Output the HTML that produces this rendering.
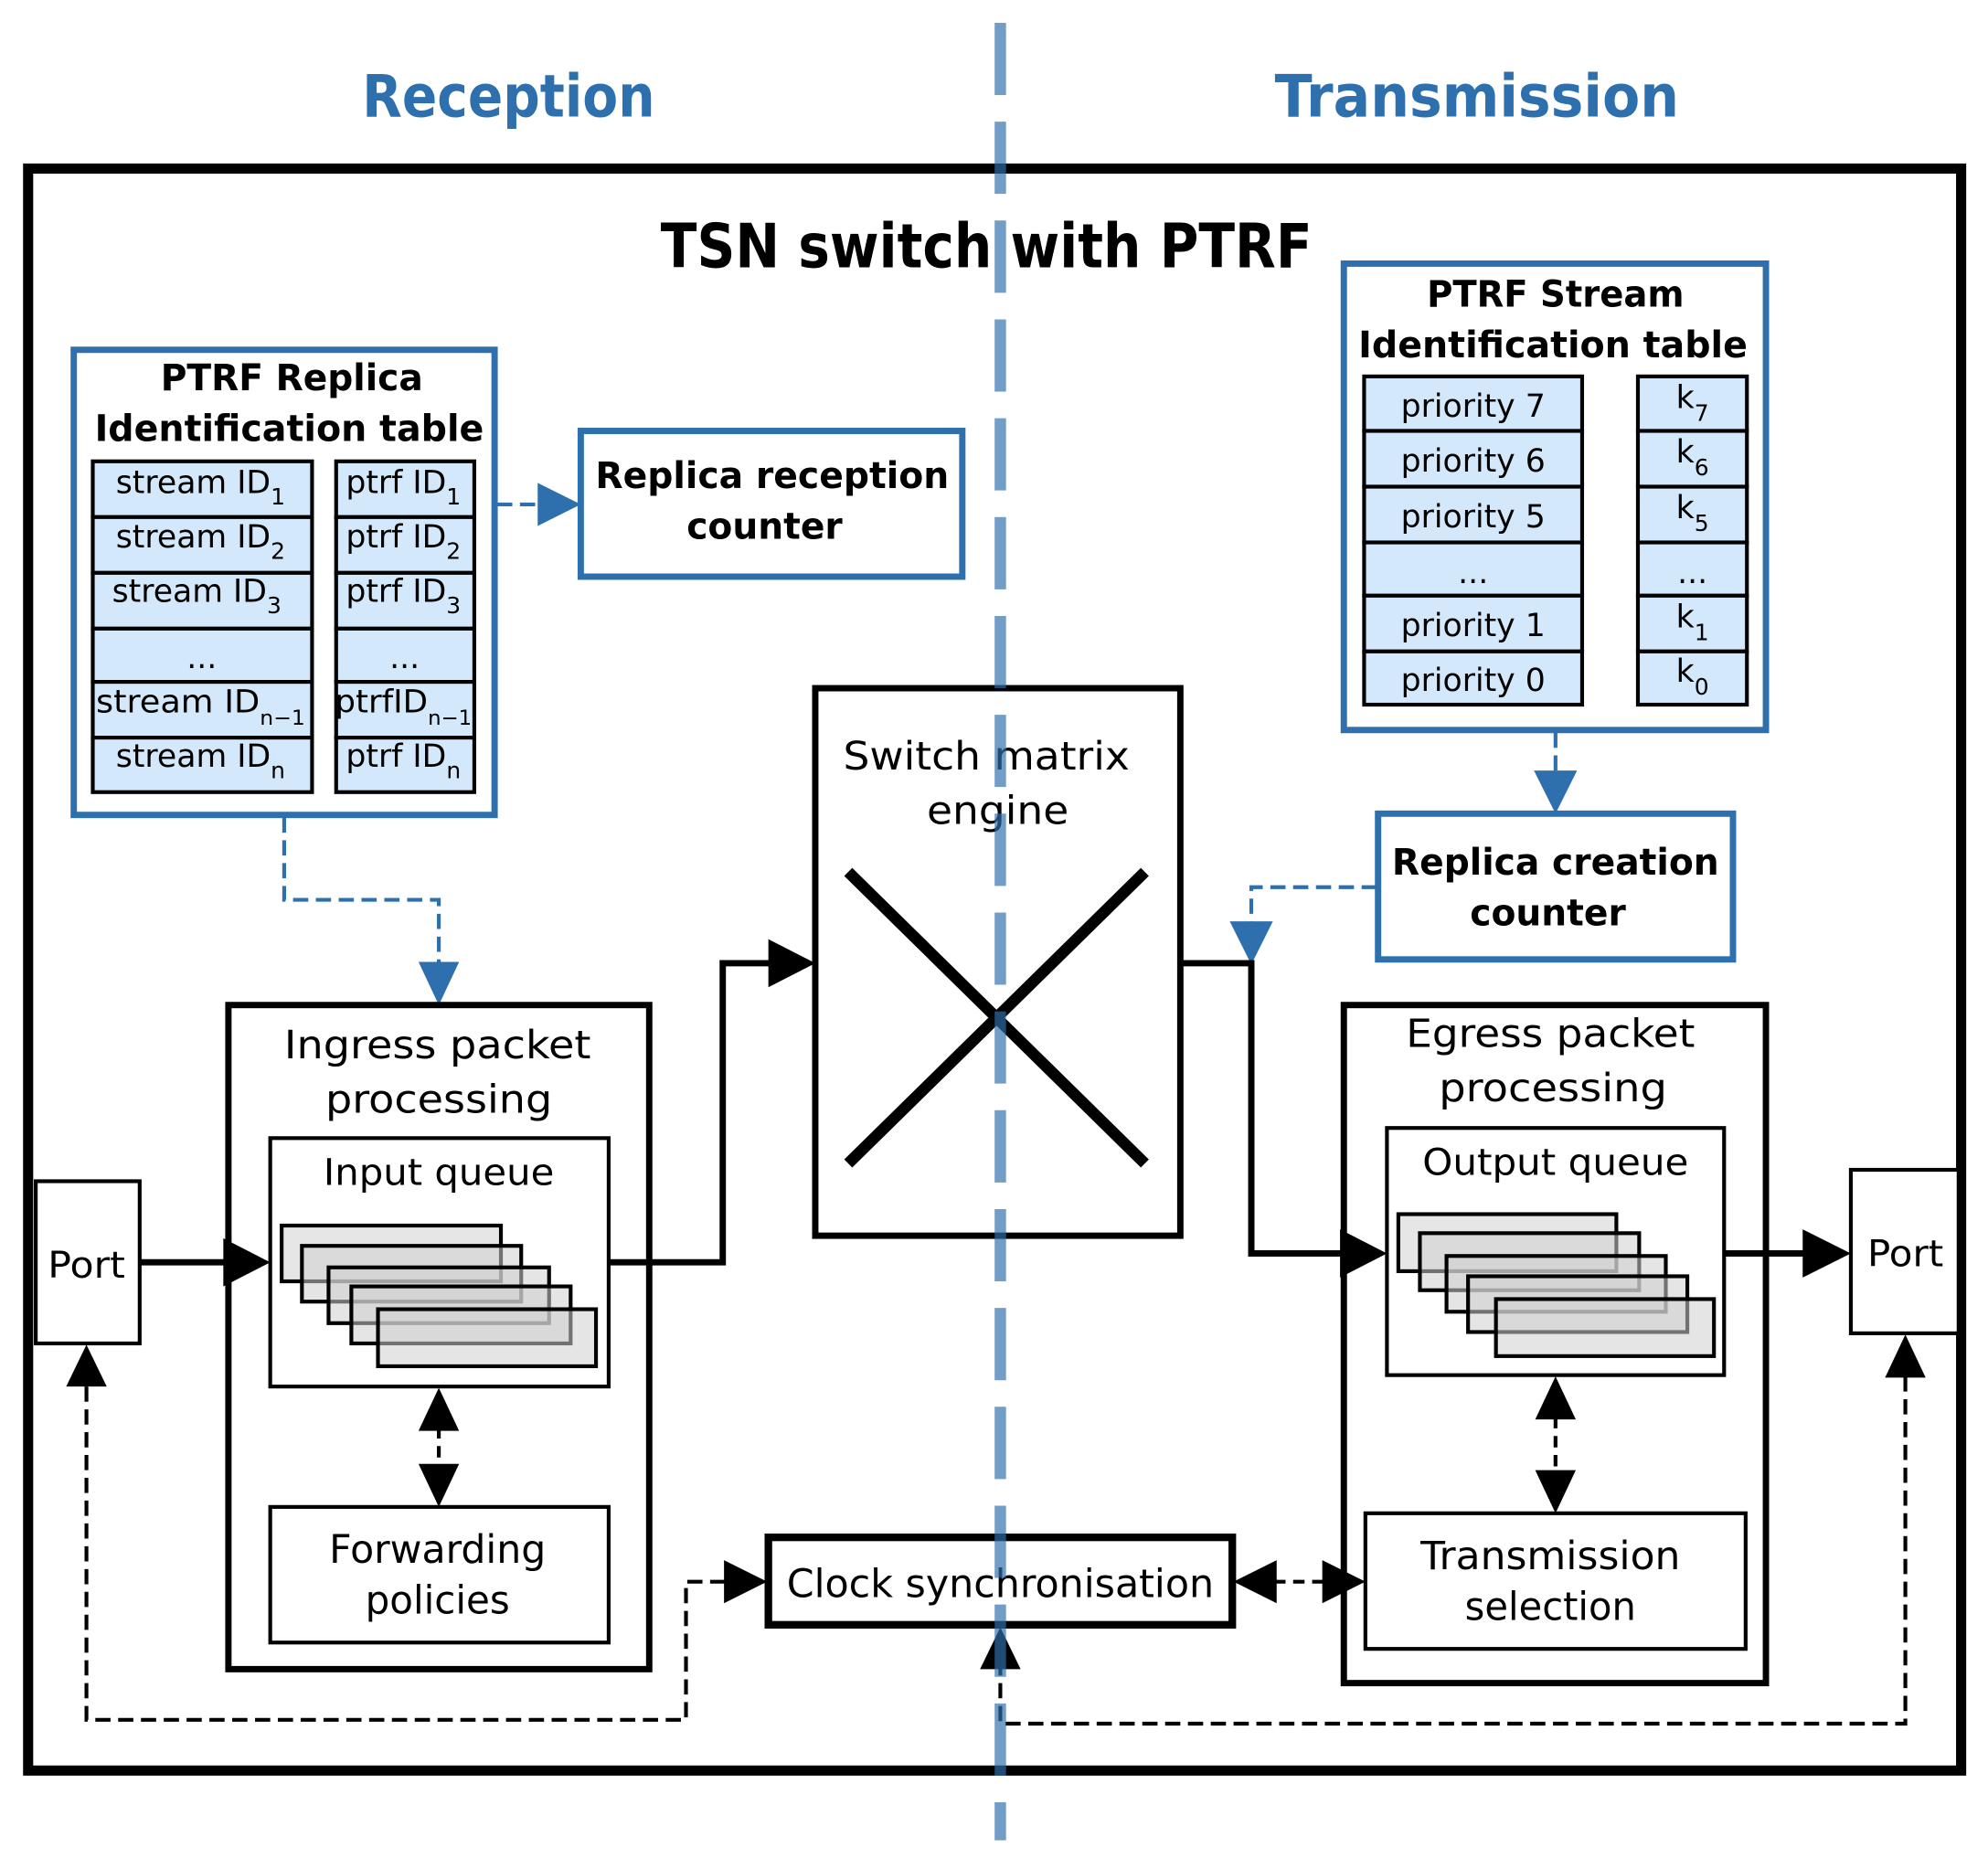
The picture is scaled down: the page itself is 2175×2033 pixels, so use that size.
<!DOCTYPE html>
<html><head><meta charset="utf-8"><style>html,body{margin:0;padding:0;background:#fff}svg{display:block}</style></head>
<body>
<svg width="2175" height="2033" viewBox="0 0 1568 1466" xmlns="http://www.w3.org/2000/svg" font-family="DejaVu Sans, Liberation Sans, sans-serif">
<rect width="1568" height="1466" fill="#fff"/>
<text x="401" y="92" font-size="46" font-weight="bold" fill="#2e6fad" text-anchor="middle" textLength="231" lengthAdjust="spacingAndGlyphs">Reception</text>
<text x="1165" y="92" font-size="46" font-weight="bold" fill="#2e6fad" text-anchor="middle" textLength="319" lengthAdjust="spacingAndGlyphs">Transmission</text>
<rect x="22" y="133" width="1525" height="1264" fill="none" stroke="#000" stroke-width="8"/>
<text x="778" y="211" font-size="48" font-weight="bold" text-anchor="middle" textLength="514" lengthAdjust="spacingAndGlyphs">TSN switch with PTRF</text>

<rect x="58" y="276" width="332" height="367" fill="#fff" stroke="#2e6fad" stroke-width="5"/>
<text x="230" y="308" font-size="29" font-weight="bold" text-anchor="middle" textLength="207" lengthAdjust="spacingAndGlyphs">PTRF Replica</text>
<text x="228" y="348" font-size="29" font-weight="bold" text-anchor="middle" textLength="307" lengthAdjust="spacingAndGlyphs">Identification table</text>
<g stroke="#000" stroke-width="3" fill="#d4e8fb">
<rect x="73" y="364" width="173" height="44"/><rect x="73" y="408" width="173" height="44"/><rect x="73" y="452" width="173" height="44"/><rect x="73" y="496" width="173" height="42"/><rect x="73" y="538" width="173" height="44"/><rect x="73" y="582" width="173" height="43"/>
<rect x="265" y="364" width="109" height="44"/><rect x="265" y="408" width="109" height="44"/><rect x="265" y="452" width="109" height="44"/><rect x="265" y="496" width="109" height="42"/><rect x="265" y="538" width="109" height="44"/><rect x="265" y="582" width="109" height="43"/>
</g>
<g font-size="25" text-anchor="middle">
<text x="158" y="389">stream ID<tspan font-size="18" dy="9">1</tspan></text>
<text x="158" y="432">stream ID<tspan font-size="18" dy="9">2</tspan></text>
<text x="155" y="475">stream ID<tspan font-size="18" dy="9">3</tspan></text>
<text x="159" y="527">...</text>
<text x="158" y="562" textLength="165" lengthAdjust="spacingAndGlyphs">stream ID<tspan font-size="16" dy="10">n−1</tspan></text>
<text x="158" y="605">stream ID<tspan font-size="18" dy="9">n</tspan></text>
<text x="318" y="389">ptrf ID<tspan font-size="18" dy="9">1</tspan></text>
<text x="318" y="432">ptrf ID<tspan font-size="18" dy="9">2</tspan></text>
<text x="318" y="475">ptrf ID<tspan font-size="18" dy="9">3</tspan></text>
<text x="319" y="527">...</text>
<text x="318" y="562" textLength="108" lengthAdjust="spacingAndGlyphs">ptrfID<tspan font-size="16" dy="10">n−1</tspan></text>
<text x="318" y="605">ptrf ID<tspan font-size="18" dy="9">n</tspan></text>
</g>
<rect x="458" y="340" width="301" height="115" fill="#fff" stroke="#2e6fad" stroke-width="5"/>
<text x="609" y="385" font-size="29" font-weight="bold" text-anchor="middle" textLength="279" lengthAdjust="spacingAndGlyphs">Replica reception</text>
<text x="603" y="425" font-size="29" font-weight="bold" text-anchor="middle" textLength="123" lengthAdjust="spacingAndGlyphs">counter</text>
<line x1="392" y1="398" x2="428" y2="398" stroke="#2e6fad" stroke-width="3" stroke-dasharray="12,6"/>
<path d="M424,381 L458,398 L424,415Z" fill="#2e6fad"/>
<path d="M224,645 L224,710 L346,710 L346,760" fill="none" stroke="#2e6fad" stroke-width="3" stroke-dasharray="12,6"/>
<path d="M330,759 L346,793 L362,759Z" fill="#2e6fad"/>

<rect x="1060" y="208" width="333" height="368" fill="#fff" stroke="#2e6fad" stroke-width="5"/>
<text x="1227" y="242" font-size="29" font-weight="bold" text-anchor="middle" textLength="203" lengthAdjust="spacingAndGlyphs">PTRF Stream</text>
<text x="1225" y="282" font-size="29" font-weight="bold" text-anchor="middle" textLength="307" lengthAdjust="spacingAndGlyphs">Identification table</text>
<g stroke="#000" stroke-width="3" fill="#d4e8fb">
<rect x="1076" y="297" width="172" height="43"/><rect x="1076" y="340" width="172" height="44"/><rect x="1076" y="384" width="172" height="44"/><rect x="1076" y="428" width="172" height="42"/><rect x="1076" y="470" width="172" height="44"/><rect x="1076" y="514" width="172" height="42"/>
<rect x="1292" y="297" width="86" height="43"/><rect x="1292" y="340" width="86" height="44"/><rect x="1292" y="384" width="86" height="44"/><rect x="1292" y="428" width="86" height="42"/><rect x="1292" y="470" width="86" height="44"/><rect x="1292" y="514" width="86" height="42"/>
</g>
<g font-size="25" text-anchor="middle">
<text x="1162" y="329">priority 7</text>
<text x="1162" y="372">priority 6</text>
<text x="1162" y="416">priority 5</text>
<text x="1162" y="460">...</text>
<text x="1162" y="502">priority 1</text>
<text x="1162" y="545">priority 0</text>
<text x="1335" y="322">k<tspan font-size="18" dy="10">7</tspan></text>
<text x="1335" y="365">k<tspan font-size="18" dy="10">6</tspan></text>
<text x="1335" y="409">k<tspan font-size="18" dy="10">5</tspan></text>
<text x="1335" y="460">...</text>
<text x="1335" y="495">k<tspan font-size="18" dy="10">1</tspan></text>
<text x="1335" y="538">k<tspan font-size="18" dy="10">0</tspan></text>
</g>
<line x1="1227" y1="578" x2="1227" y2="612" stroke="#2e6fad" stroke-width="3" stroke-dasharray="12,6"/>
<path d="M1210,608 L1227,642 L1244,608Z" fill="#2e6fad"/>
<rect x="1087" y="642" width="280" height="115" fill="#fff" stroke="#2e6fad" stroke-width="5"/>
<text x="1227" y="690" font-size="29" font-weight="bold" text-anchor="middle" textLength="258" lengthAdjust="spacingAndGlyphs">Replica creation</text>
<text x="1221" y="730" font-size="29" font-weight="bold" text-anchor="middle" textLength="123" lengthAdjust="spacingAndGlyphs">counter</text>
<path d="M1086,700 L987,700 L987,730" fill="none" stroke="#2e6fad" stroke-width="3" stroke-dasharray="12,6"/>
<path d="M970,727 L987,761 L1004,727Z" fill="#2e6fad"/>

<rect x="643" y="543" width="288" height="432" fill="#fff" stroke="#000" stroke-width="5"/>
<text x="778" y="607" font-size="31" text-anchor="middle" textLength="226" lengthAdjust="spacingAndGlyphs">Switch matrix</text>
<text x="787" y="650" font-size="31" text-anchor="middle" textLength="112" lengthAdjust="spacingAndGlyphs">engine</text>
<line x1="669" y1="688" x2="903" y2="918" stroke="#000" stroke-width="9"/>
<line x1="903" y1="688" x2="669" y2="918" stroke="#000" stroke-width="9"/>

<rect x="180" y="793" width="332" height="524" fill="#fff" stroke="#000" stroke-width="5"/>
<text x="345" y="835" font-size="31" text-anchor="middle" textLength="242" lengthAdjust="spacingAndGlyphs">Ingress packet</text>
<text x="346" y="878" font-size="31" text-anchor="middle" textLength="179" lengthAdjust="spacingAndGlyphs">processing</text>
<rect x="213" y="898" width="267" height="196" fill="#fff" stroke="#000" stroke-width="3"/>
<text x="346" y="935" font-size="29" text-anchor="middle" textLength="182" lengthAdjust="spacingAndGlyphs">Input queue</text>
<g stroke="#000" stroke-width="3" fill="#cfcfcf" fill-opacity="0.55">
<rect x="222" y="967" width="173" height="44" fill="#e6e6e6" fill-opacity="1"/>
<rect x="238" y="983" width="173" height="44"/>
<rect x="259" y="1000" width="174" height="44"/>
<rect x="277" y="1015" width="173" height="45"/>
<rect x="298" y="1033" width="172" height="45"/>
</g>
<rect x="213" y="1189" width="267" height="107" fill="#fff" stroke="#000" stroke-width="3"/>
<text x="345" y="1233" font-size="31" text-anchor="middle" textLength="171" lengthAdjust="spacingAndGlyphs">Forwarding</text>
<text x="345" y="1273" font-size="31" text-anchor="middle" textLength="114" lengthAdjust="spacingAndGlyphs">policies</text>
<line x1="346" y1="1126" x2="346" y2="1158" stroke="#000" stroke-width="3" stroke-dasharray="9,6"/>
<path d="M330,1129 L346,1095 L362,1129Z M330,1155 L346,1189 L362,1155Z" fill="#000"/>

<rect x="28" y="932" width="82" height="128" fill="#fff" stroke="#000" stroke-width="3"/>
<text x="68" y="1008" font-size="29" text-anchor="middle" textLength="61" lengthAdjust="spacingAndGlyphs">Port</text>
<rect x="1460" y="923" width="85" height="129" fill="#fff" stroke="#000" stroke-width="3"/>
<text x="1503" y="999" font-size="29" text-anchor="middle" textLength="60" lengthAdjust="spacingAndGlyphs">Port</text>

<line x1="110" y1="996" x2="180" y2="996" stroke="#000" stroke-width="5"/>
<path d="M176,977 L213,996 L176,1015Z" fill="#000"/>
<path d="M480,996 L570,996 L570,760 L610,760" fill="none" stroke="#000" stroke-width="5"/>
<path d="M606,741 L643,760 L606,779Z" fill="#000"/>
<path d="M931,760 L987,760 L987,989 L1060,989" fill="none" stroke="#000" stroke-width="5"/>
<path d="M1057,970 L1094,989 L1057,1008Z" fill="#000"/>
<line x1="1360" y1="989" x2="1425" y2="989" stroke="#000" stroke-width="5"/>
<path d="M1422,970 L1460,989 L1422,1008Z" fill="#000"/>

<rect x="1060" y="793" width="333" height="535" fill="none" stroke="#000" stroke-width="5"/>
<text x="1223" y="826" font-size="31" text-anchor="middle" textLength="228" lengthAdjust="spacingAndGlyphs">Egress packet</text>
<text x="1225" y="869" font-size="31" text-anchor="middle" textLength="180" lengthAdjust="spacingAndGlyphs">processing</text>
<rect x="1094" y="890" width="266" height="195" fill="#fff" stroke="#000" stroke-width="3"/>
<text x="1227" y="927" font-size="29" text-anchor="middle" textLength="210" lengthAdjust="spacingAndGlyphs">Output queue</text>
<g stroke="#000" stroke-width="3" fill="#cfcfcf" fill-opacity="0.55">
<rect x="1103" y="958" width="172" height="45" fill="#e6e6e6" fill-opacity="1"/>
<rect x="1120" y="973" width="173" height="45"/>
<rect x="1141" y="991" width="173" height="44"/>
<rect x="1158" y="1007" width="173" height="44"/>
<rect x="1180" y="1025" width="172" height="45"/>
</g>
<rect x="1077" y="1194" width="300" height="107" fill="#fff" stroke="#000" stroke-width="3"/>
<text x="1223" y="1238" font-size="31" text-anchor="middle" textLength="205" lengthAdjust="spacingAndGlyphs">Transmission</text>
<text x="1223" y="1278" font-size="31" text-anchor="middle" textLength="135" lengthAdjust="spacingAndGlyphs">selection</text>
<line x1="1227" y1="1118" x2="1227" y2="1162" stroke="#000" stroke-width="3" stroke-dasharray="9,6"/>
<path d="M1211,1120 L1227,1086 L1243,1120Z M1211,1160 L1227,1194 L1243,1160Z" fill="#000"/>

<rect x="606" y="1213" width="366" height="69" fill="#fff" stroke="#000" stroke-width="6"/>
<text x="789" y="1260" font-size="31" text-anchor="middle" textLength="337" lengthAdjust="spacingAndGlyphs">Clock synchronisation</text>
<line x1="1005" y1="1248" x2="1045" y2="1248" stroke="#000" stroke-width="3" stroke-dasharray="9,6"/>
<path d="M1007,1231 L973,1248 L1007,1265Z M1043,1231 L1077,1248 L1043,1265Z" fill="#000"/>
<path d="M68,1094 L68,1357 L541,1357 L541,1248 L574,1248" fill="none" stroke="#000" stroke-width="3" stroke-dasharray="12,6"/>
<path d="M52,1094 L68,1061 L84,1094Z" fill="#000"/>
<path d="M571,1231 L605,1248 L571,1265Z" fill="#000"/>
<path d="M1503,1086 L1503,1360 L789,1360 L789,1316" fill="none" stroke="#000" stroke-width="3" stroke-dasharray="12,6"/>
<path d="M1487,1087 L1503,1053 L1519,1087Z" fill="#000"/>
<path d="M773,1317 L789,1284 L805,1317Z" fill="#000"/>

<line x1="789" y1="18" x2="789" y2="1452" stroke="#2e6fad" stroke-opacity="0.68" stroke-width="9" stroke-dasharray="57,21"/>
</svg>
</body></html>
